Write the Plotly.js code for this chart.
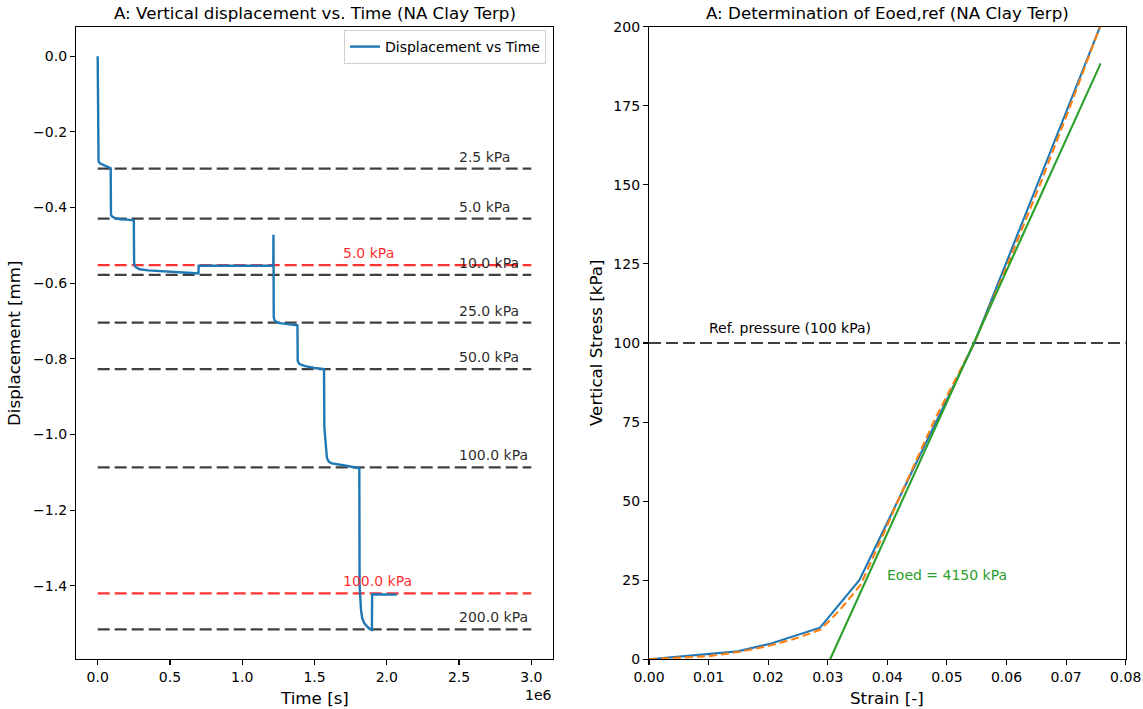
<!DOCTYPE html>
<html>
<head>
<meta charset="utf-8">
<script src="https://cdn.plot.ly/plotly-3.0.1.min.js"></script>
<style>
  html, body { margin: 0; padding: 0; background: #fff; }
  #chart { width: 1143px; height: 709px; }
</style>
</head>
<body>
<div id="chart"></div>
<script>
// ---------- Data: left panel (displacement vs time) ----------
const timeS = [
  0, 2000, 6000, 15000, 30000, 60000, 90000,
  92000, 94000, 100000, 120000, 155000, 200000, 250000,
  252000, 256000, 265000, 290000, 350000, 450000, 550000, 650000, 697000,
  699000, 1215000,
  1216000, 1218000, 1225000, 1245000, 1274000, 1330000, 1382000,
  1384000, 1392000, 1410000, 1436000, 1500000, 1566000,
  1568000, 1572000, 1576000, 1580000, 1586000, 1600000, 1620000, 1700000, 1760000, 1810000,
  1812000, 1816000, 1822000, 1830000, 1845000, 1863000, 1880000, 1897000,
  1899000, 2070000
];
const displacementMm = [
  0.0, -0.268, -0.278, -0.283, -0.286, -0.291, -0.296,
  -0.419, -0.421, -0.424, -0.428, -0.431, -0.432, -0.434,
  -0.545, -0.553, -0.558, -0.563, -0.566, -0.569, -0.571, -0.573, -0.574,
  -0.554, -0.554,
  -0.472, -0.690, -0.699, -0.704, -0.706, -0.709, -0.711,
  -0.805, -0.812, -0.816, -0.819, -0.824, -0.827,
  -0.980, -1.000, -1.015, -1.040, -1.062, -1.072, -1.076, -1.081, -1.085, -1.089,
  -1.400, -1.445, -1.465, -1.485, -1.499, -1.507, -1.513, -1.516,
  -1.422, -1.423
];
// loading steps (black dashed) and unloading steps (red dashed)
const loadLabels = ['2.5 kPa', '5.0 kPa', '10.0 kPa', '25.0 kPa', '50.0 kPa', '100.0 kPa', '200.0 kPa'];
const loadLevels = [-0.297, -0.4295, -0.578, -0.704, -0.827, -1.0866, -1.515];
const unloadLabels = ['5.0 kPa', '100.0 kPa'];
const unloadLevels = [-0.552, -1.420];
const levelSpan = [0, 3000000];
const loadLabelX = 2500000;
const unloadLabelX = 1700000;
const timeTickVals = [0, 500000, 1000000, 1500000, 2000000, 2500000, 3000000];
const timeTickText = ['0.0', '0.5', '1.0', '1.5', '2.0', '2.5', '3.0'];
const dispTickVals = [0, -0.2, -0.4, -0.6, -0.8, -1.0, -1.2, -1.4];

// ---------- Data: right panel (stress vs strain) ----------
const strainMeas = [0.0, 0.0149, 0.0205, 0.0287, 0.0353, 0.0417, 0.0546, 0.0757];
const stressMeas = [0, 2.5, 5, 10, 25, 50, 100, 200];
const strainFit = [0.0, 0.005, 0.010, 0.015, 0.020, 0.025, 0.0288, 0.032, 0.0355, 0.0385, 0.042, 0.048, 0.0546, 0.0600, 0.0656, 0.0705, 0.0757];
const stressFit = [0, 0.4, 1.0, 2.3, 4.2, 6.8, 9.4, 15.5, 23.5, 36, 51, 76, 100, 124, 150, 174, 200];
const eoedStrain = [0.0304, 0.0758];
const eoedStress = [0, 188.4];
const refStrain = [0, 0.08];
const refStress = [100, 100];

// ---------- Styles ----------
const W = 1143, H = 709;
const FONT = 'DejaVu Sans, Liberation Sans, sans-serif';
const BLACKDASH = 'rgba(0,0,0,0.75)';
const REDDASH = 'rgba(255,0,0,0.8)';
const px = v => v / W;
const py = v => 1 - v / H;

const traces = [];
loadLevels.forEach(v => traces.push({
  x: levelSpan, y: [v, v], xaxis: 'x', yaxis: 'y', mode: 'lines', showlegend: false,
  line: { color: BLACKDASH, width: 2.2, dash: '12px,5px' }, hoverinfo: 'skip'
}));
unloadLevels.forEach(v => traces.push({
  x: levelSpan, y: [v, v], xaxis: 'x', yaxis: 'y', mode: 'lines', showlegend: false,
  line: { color: REDDASH, width: 2.2, dash: '12px,5px' }, hoverinfo: 'skip'
}));
traces.push({
  x: timeS, y: displacementMm, xaxis: 'x', yaxis: 'y', mode: 'lines',
  name: 'Displacement vs Time', showlegend: true,
  line: { color: '#1f77b4', width: 2.4 }
});
traces.push({
  x: refStrain, y: refStress, xaxis: 'x2', yaxis: 'y2', mode: 'lines', showlegend: false,
  line: { color: BLACKDASH, width: 2.2, dash: '12px,5px' }
});
traces.push({
  x: strainMeas, y: stressMeas, xaxis: 'x2', yaxis: 'y2', mode: 'lines', showlegend: false,
  line: { color: '#1f77b4', width: 2.1 }
});
traces.push({
  x: strainFit, y: stressFit, xaxis: 'x2', yaxis: 'y2', mode: 'lines', showlegend: false,
  line: { color: '#ff7f0e', width: 2.1, dash: '8px,4px' }
});
traces.push({
  x: eoedStrain, y: eoedStress, xaxis: 'x2', yaxis: 'y2', mode: 'lines', showlegend: false,
  line: { color: '#2ca02c', width: 2.1 }
});

const ann = [];
loadLevels.forEach((v, i) => ann.push({
  x: loadLabelX, y: v, xref: 'x', yref: 'y', text: loadLabels[i], showarrow: false,
  xanchor: 'left', yanchor: 'middle', yshift: 12, xshift: -2,
  font: { family: FONT, size: 14, color: 'rgba(0,0,0,0.85)' }
}));
unloadLevels.forEach((v, i) => ann.push({
  x: unloadLabelX, y: v, xref: 'x', yref: 'y', text: unloadLabels[i], showarrow: false,
  xanchor: 'left', yanchor: 'middle', yshift: 12, xshift: -2,
  font: { family: FONT, size: 14, color: 'rgba(255,0,0,0.85)' }
}));
ann.push({ x: 0.01, y: 104.7, xref: 'x2', yref: 'y2', text: 'Ref. pressure (100 kPa)', showarrow: false,
  xanchor: 'left', yanchor: 'middle', xshift: -2, font: { family: FONT, size: 14, color: '#000' } });
ann.push({ x: 0.04, y: 26.7, xref: 'x2', yref: 'y2', text: 'Eoed = 4150 kPa', showarrow: false,
  xanchor: 'left', yanchor: 'middle', xshift: -2, font: { family: FONT, size: 14, color: '#2ca02c' } });
ann.push({ x: px(314.5), y: py(13.5), xref: 'paper', yref: 'paper', text: 'A: Vertical displacement vs. Time (NA Clay Terp)',
  showarrow: false, xanchor: 'center', yanchor: 'middle', font: { family: FONT, size: 16.7, color: '#000' } });
ann.push({ x: px(887.4), y: py(13.5), xref: 'paper', yref: 'paper', text: 'A: Determination of Eoed,ref (NA Clay Terp)',
  showarrow: false, xanchor: 'center', yanchor: 'middle', font: { family: FONT, size: 16.7, color: '#000' } });
ann.push({ x: px(314.5), y: py(698), xref: 'paper', yref: 'paper', text: 'Time [s]', showarrow: false,
  xanchor: 'center', yanchor: 'middle', font: { family: FONT, size: 16.7, color: '#000' } });
ann.push({ x: px(538), y: py(695), xref: 'paper', yref: 'paper', text: '1e6', showarrow: false,
  xanchor: 'center', yanchor: 'middle', font: { family: FONT, size: 14, color: '#000' } });
ann.push({ x: px(887.4), y: py(698), xref: 'paper', yref: 'paper', text: 'Strain [-]', showarrow: false,
  xanchor: 'center', yanchor: 'middle', font: { family: FONT, size: 16.7, color: '#000' } });
ann.push({ x: px(14), y: py(343), xref: 'paper', yref: 'paper', text: 'Displacement [mm]', showarrow: false,
  textangle: -90, xanchor: 'center', yanchor: 'middle', font: { family: FONT, size: 16.7, color: '#000' } });
ann.push({ x: px(596), y: py(343), xref: 'paper', yref: 'paper', text: 'Vertical Stress [kPa]', showarrow: false,
  textangle: -90, xanchor: 'center', yanchor: 'middle', font: { family: FONT, size: 16.7, color: '#000' } });

const axisCommon = {
  showgrid: false, zeroline: false, showline: true, linecolor: '#000', linewidth: 1.1,
  mirror: true, ticks: 'outside', ticklen: 5, tickwidth: 1.1, tickcolor: '#000',
  tickfont: { family: FONT, size: 14, color: '#000' }, automargin: false, fixedrange: true
};

const layout = {
  width: W, height: H,
  margin: { l: 0, r: 0, t: 0, b: 0, pad: 0 },
  paper_bgcolor: '#fff', plot_bgcolor: '#fff',
  font: { family: FONT, size: 14, color: '#000' },
  showlegend: true,
  legend: {
    x: px(546), y: py(30), xanchor: 'right', yanchor: 'top',
    bgcolor: 'rgba(255,255,255,0.9)', bordercolor: '#d0d0d0', borderwidth: 1,
    font: { family: FONT, size: 14, color: '#000' },
    tracegroupgap: 0, itemwidth: 30
  },
  xaxis: Object.assign({}, axisCommon, {
    domain: [px(76), px(553)], range: [-150000, 3150000], anchor: 'y',
    tickmode: 'array', tickvals: timeTickVals, ticktext: timeTickText
  }),
  yaxis: Object.assign({}, axisCommon, {
    domain: [py(659.3), py(26.7)], range: [-1.594, 0.078], anchor: 'x',
    tickmode: 'array', tickvals: dispTickVals, tickformat: '.1f'
  }),
  xaxis2: Object.assign({}, axisCommon, {
    domain: [px(649), px(1125.7)], range: [0, 0.08], anchor: 'y2',
    tickmode: 'linear', tick0: 0, dtick: 0.01, tickformat: '.2f'
  }),
  yaxis2: Object.assign({}, axisCommon, {
    domain: [py(659.3), py(26.7)], range: [0, 200], anchor: 'x2',
    tickmode: 'linear', tick0: 0, dtick: 25
  }),
  annotations: ann
};

Plotly.newPlot('chart', traces, layout, { staticPlot: true, displayModeBar: false });
</script>
</body>
</html>
